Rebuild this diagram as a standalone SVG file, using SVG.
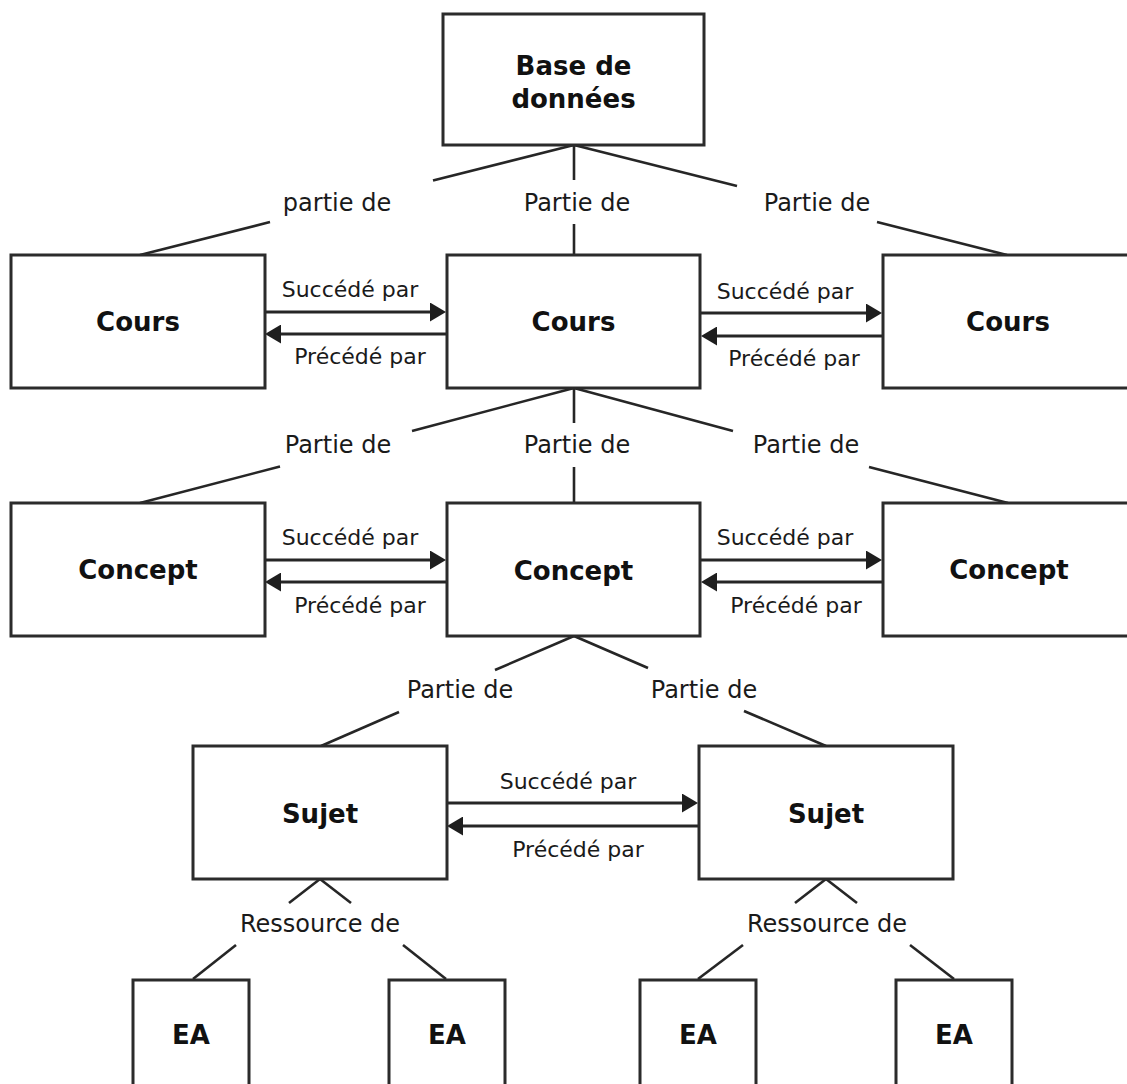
<svg xmlns="http://www.w3.org/2000/svg" width="1127" height="1084" viewBox="0 0 1127 1084">
  <defs>
    <marker id="head" markerUnits="userSpaceOnUse" markerWidth="16" markerHeight="19" refX="6" refY="9.5" orient="auto">
      <path d="M0,0 L16,9.5 L0,19 Z" fill="#1e1e1e"/>
    </marker>
    <style>
      .box { fill: #ffffff; stroke: #2b2b2b; stroke-width: 3; }
      .title { font-family: "DejaVu Sans", "Liberation Sans", sans-serif; font-weight: bold; font-size: 26px; fill: #111111; text-anchor: middle; }
      .link { stroke: #262626; stroke-width: 2.6; fill: none; }
      .arrow { stroke: #262626; stroke-width: 3; fill: none; marker-end: url(#head); }
      .lbl { font-family: "DejaVu Sans", "Liberation Sans", sans-serif; font-size: 24px; fill: #1a1a1a; text-anchor: middle; }
      .rel { font-family: "DejaVu Sans", "Liberation Sans", sans-serif; font-size: 22px; fill: #1a1a1a; text-anchor: middle; }
    </style>
  </defs>
  <rect width="1127" height="1084" fill="#ffffff"/>

  <!-- connectors: hierarchy links (split around their labels) and sequence arrows -->
  <g id="connectors">
    <!-- Base de données -> Cours -->
    <line class="link" x1="574" y1="145" x2="433" y2="180.5"/>
    <line class="link" x1="270" y1="222" x2="140" y2="255"/>
    <line class="link" x1="574" y1="145" x2="574" y2="180"/>
    <line class="link" x1="574" y1="224" x2="574" y2="255"/>
    <line class="link" x1="574" y1="145" x2="737" y2="186"/>
    <line class="link" x1="877" y1="222" x2="1007" y2="255"/>
    <text class="lbl" x="337" y="211">partie de</text>
    <text class="lbl" x="577" y="211">Partie de</text>
    <text class="lbl" x="817" y="211">Partie de</text>

    <!-- Cours -> Concept -->
    <line class="link" x1="574" y1="388" x2="412" y2="431"/>
    <line class="link" x1="280" y1="466.5" x2="140" y2="503"/>
    <line class="link" x1="574" y1="388" x2="574" y2="423"/>
    <line class="link" x1="574" y1="467" x2="574" y2="503"/>
    <line class="link" x1="574" y1="388" x2="733" y2="431"/>
    <line class="link" x1="869" y1="467" x2="1008" y2="503"/>
    <text class="lbl" x="338" y="453">Partie de</text>
    <text class="lbl" x="577" y="453">Partie de</text>
    <text class="lbl" x="806" y="453">Partie de</text>

    <!-- Concept -> Sujet -->
    <line class="link" x1="574" y1="636" x2="495" y2="670"/>
    <line class="link" x1="399" y1="712" x2="321" y2="746"/>
    <line class="link" x1="574" y1="636" x2="648" y2="668"/>
    <line class="link" x1="744" y1="711" x2="826" y2="746"/>
    <text class="lbl" x="460" y="698">Partie de</text>
    <text class="lbl" x="704" y="698">Partie de</text>

    <!-- Sujet -> EA -->
    <line class="link" x1="320" y1="879" x2="289" y2="903"/>
    <line class="link" x1="236" y1="945" x2="193" y2="979"/>
    <line class="link" x1="320" y1="879" x2="351" y2="903"/>
    <line class="link" x1="403" y1="945" x2="446" y2="979"/>
    <text class="lbl" x="320" y="932">Ressource de</text>
    <line class="link" x1="826" y1="879" x2="795" y2="903"/>
    <line class="link" x1="743" y1="945" x2="698" y2="979"/>
    <line class="link" x1="826" y1="879" x2="857" y2="903"/>
    <line class="link" x1="910" y1="945" x2="954" y2="979"/>
    <text class="lbl" x="827" y="932">Ressource de</text>

    <!-- Cours row sequence -->
    <line class="arrow" x1="265" y1="312" x2="436" y2="312"/>
    <line class="arrow" x1="447" y1="334" x2="275" y2="334"/>
    <text class="rel" x="350" y="297">Succédé par</text>
    <text class="rel" x="360" y="364">Précédé par</text>
    <line class="arrow" x1="700" y1="313" x2="872" y2="313"/>
    <line class="arrow" x1="883" y1="336" x2="711" y2="336"/>
    <text class="rel" x="785" y="299">Succédé par</text>
    <text class="rel" x="794" y="366">Précédé par</text>

    <!-- Concept row sequence -->
    <line class="arrow" x1="265" y1="560" x2="436" y2="560"/>
    <line class="arrow" x1="447" y1="582" x2="275" y2="582"/>
    <text class="rel" x="350" y="545">Succédé par</text>
    <text class="rel" x="360" y="613">Précédé par</text>
    <line class="arrow" x1="700" y1="560" x2="872" y2="560"/>
    <line class="arrow" x1="883" y1="582" x2="711" y2="582"/>
    <text class="rel" x="785" y="545">Succédé par</text>
    <text class="rel" x="796" y="613">Précédé par</text>

    <!-- Sujet row sequence -->
    <line class="arrow" x1="447" y1="803" x2="688" y2="803"/>
    <line class="arrow" x1="699" y1="826" x2="457" y2="826"/>
    <text class="rel" x="568" y="789">Succédé par</text>
    <text class="rel" x="578" y="857">Précédé par</text>
  </g>

  <!-- nodes -->
  <g id="node-base">
    <rect class="box" x="443" y="14" width="261" height="131"/>
    <text class="title" x="573.5" y="75">Base de</text>
    <text class="title" x="573.5" y="108">données</text>
  </g>

  <g id="node-cours-1">
    <rect class="box" x="11" y="255" width="254" height="133"/>
    <text class="title" x="138" y="331">Cours</text>
  </g>
  <g id="node-cours-2">
    <rect class="box" x="447" y="255" width="253" height="133"/>
    <text class="title" x="573.5" y="331">Cours</text>
  </g>
  <g id="node-cours-3">
    <rect class="box" x="883" y="255" width="254" height="133"/>
    <text class="title" x="1008" y="331">Cours</text>
  </g>

  <g id="node-concept-1">
    <rect class="box" x="11" y="503" width="254" height="133"/>
    <text class="title" x="138" y="579">Concept</text>
  </g>
  <g id="node-concept-2">
    <rect class="box" x="447" y="503" width="253" height="133"/>
    <text class="title" x="573.5" y="580">Concept</text>
  </g>
  <g id="node-concept-3">
    <rect class="box" x="883" y="503" width="254" height="133"/>
    <text class="title" x="1009" y="579">Concept</text>
  </g>

  <g id="node-sujet-1">
    <rect class="box" x="193" y="746" width="254" height="133"/>
    <text class="title" x="320" y="823">Sujet</text>
  </g>
  <g id="node-sujet-2">
    <rect class="box" x="699" y="746" width="254" height="133"/>
    <text class="title" x="826" y="823">Sujet</text>
  </g>

  <g id="node-ea-1">
    <rect class="box" x="133" y="980" width="116" height="120"/>
    <text class="title" x="191" y="1044">EA</text>
  </g>
  <g id="node-ea-2">
    <rect class="box" x="389" y="980" width="116" height="120"/>
    <text class="title" x="447" y="1044">EA</text>
  </g>
  <g id="node-ea-3">
    <rect class="box" x="640" y="980" width="116" height="120"/>
    <text class="title" x="698" y="1044">EA</text>
  </g>
  <g id="node-ea-4">
    <rect class="box" x="896" y="980" width="116" height="120"/>
    <text class="title" x="954" y="1044">EA</text>
  </g>
</svg>
